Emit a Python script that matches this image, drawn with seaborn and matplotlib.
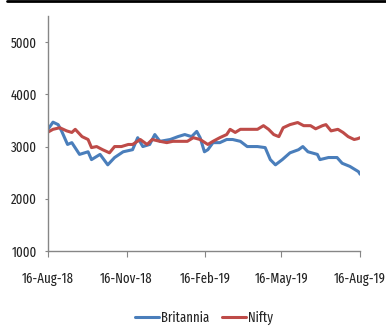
import pandas as pd
import matplotlib.pyplot as plt
import matplotlib.dates as mdates
from matplotlib.lines import Line2D
import seaborn as sns


BRITANNIA_DATES = [
    "2018-08-16", "2018-08-22", "2018-08-28", "2018-09-01", "2018-09-08",
    "2018-09-13", "2018-09-22", "2018-10-02", "2018-10-06", "2018-10-16",
    "2018-10-25", "2018-11-02", "2018-11-12", "2018-11-23", "2018-11-29",
    "2018-12-05", "2018-12-13", "2018-12-19", "2018-12-25", "2019-01-06",
    "2019-01-15", "2019-01-23", "2019-01-31", "2019-02-06", "2019-02-10",
    "2019-02-15", "2019-02-19", "2019-02-25", "2019-03-05", "2019-03-13",
    "2019-03-20", "2019-03-29", "2019-04-06", "2019-04-18", "2019-04-27",
    "2019-05-03", "2019-05-09", "2019-05-17", "2019-05-26", "2019-06-05",
    "2019-06-10", "2019-06-16", "2019-06-27", "2019-06-30", "2019-07-10",
    "2019-07-20", "2019-07-26", "2019-08-04", "2019-08-14", "2019-08-16",
]
BRITANNIA = [
    3327, 3467, 3420, 3300, 3040, 3075, 2850, 2900, 2750, 2850,
    2650, 2790, 2900, 2940, 3170, 3000, 3040, 3230, 3100, 3135,
    3190, 3230, 3190, 3290, 3170, 2900, 2940, 3075, 3075, 3135,
    3135, 3100, 3000, 3000, 2980, 2750, 2650, 2750, 2880, 2940,
    3000, 2900, 2850, 2750, 2790, 2790, 2680, 2620, 2520, 2470,
]

NIFTY_DATES = [
    "2018-08-16", "2018-08-22", "2018-08-30", "2018-09-07", "2018-09-13",
    "2018-09-17", "2018-09-25", "2018-10-02", "2018-10-06", "2018-10-12",
    "2018-10-19", "2018-10-27", "2018-11-02", "2018-11-10", "2018-11-18",
    "2018-11-23", "2018-12-02", "2018-12-10", "2018-12-16", "2018-12-25",
    "2019-01-02", "2019-01-09", "2019-01-20", "2019-01-26", "2019-02-02",
    "2019-02-10", "2019-02-19", "2019-02-25", "2019-03-05", "2019-03-13",
    "2019-03-17", "2019-03-23", "2019-03-29", "2019-04-07", "2019-04-18",
    "2019-04-25", "2019-05-01", "2019-05-07", "2019-05-13", "2019-05-18",
    "2019-05-26", "2019-06-04", "2019-06-11", "2019-06-19", "2019-06-25",
    "2019-07-03", "2019-07-07", "2019-07-13", "2019-07-21", "2019-07-27",
    "2019-08-02", "2019-08-09", "2019-08-13", "2019-08-16",
]
NIFTY = [
    3275, 3330, 3360, 3300, 3270, 3330, 3190, 3135, 2980, 3000,
    2940, 2880, 3000, 3000, 3040, 3040, 3135, 3040, 3135, 3100,
    3075, 3100, 3100, 3100, 3170, 3135, 3040, 3100, 3170, 3230,
    3330, 3270, 3330, 3330, 3330, 3400, 3330, 3230, 3190, 3360,
    3420, 3460, 3400, 3400, 3340, 3400, 3420, 3300, 3330, 3270,
    3190, 3135, 3150, 3170,
]

X_TICKS = ["2018-08-16", "2018-11-16", "2019-02-16", "2019-05-16", "2019-08-16"]
Y_TICKS = [1000, 2000, 3000, 4000, 5000]

COLORS = {"Britannia": "#4A7EBB", "Nifty": "#BE4B48"}
AXIS_GREY = "#868686"
FONT_SIZE = 10


def main():
    df = pd.concat([
        pd.DataFrame({"date": pd.to_datetime(BRITANNIA_DATES), "value": BRITANNIA, "series": "Britannia"}),
        pd.DataFrame({"date": pd.to_datetime(NIFTY_DATES), "value": NIFTY, "series": "Nifty"}),
    ])

    sns.set_style("white")
    plt.rcParams["font.family"] = ["Fira Sans Extra Condensed", "Fira Sans Condensed", "DejaVu Sans"]

    fig = plt.figure(figsize=(3.86, 3.26), dpi=100)
    ax = fig.add_axes([0.124, 0.230, 0.809, 0.721])

    sns.lineplot(
        data=df, x="date", y="value", hue="series",
        palette=COLORS, linewidth=2.2, ax=ax
    )

    ax.set_xlim(pd.Timestamp(X_TICKS[0]), pd.Timestamp(X_TICKS[-1]))
    ax.set_ylim(1000, 5500)
    ax.set_xticks(pd.to_datetime(X_TICKS))
    ax.xaxis.set_major_formatter(mdates.DateFormatter("%d-%b-%y"))
    ax.set_yticks(Y_TICKS)
    ax.set_xlabel("")
    ax.set_ylabel("")

    for side in ["top", "right"]:
        ax.spines[side].set_visible(False)
    for side in ["left", "bottom"]:
        ax.spines[side].set_color(AXIS_GREY)
        ax.spines[side].set_linewidth(1.0)

    ax.tick_params(axis="y", length=2.5, color=AXIS_GREY, labelsize=FONT_SIZE, pad=5.5, labelcolor="#222222")
    ax.tick_params(axis="x", length=4, color=AXIS_GREY, labelsize=FONT_SIZE, pad=11, labelcolor="#222222")
    ax.tick_params(left=True, bottom=True)

    handles, labels = ax.get_legend_handles_labels()
    ax.legend(
        handles, labels, loc="center", bbox_to_anchor=(0.5, -0.285),
        ncol=2, frameon=False, fontsize=FONT_SIZE, handlelength=1.75,
        handletextpad=0.15, columnspacing=0.9
    )

    # black rule across the top
    fig.add_artist(Line2D([0.018, 1.0], [0.996, 0.996], transform=fig.transFigure,
                          color="black", linewidth=2.0))

    fig.savefig("out.png", dpi=100)
    plt.close(fig)


if __name__ == "__main__":
    main()
